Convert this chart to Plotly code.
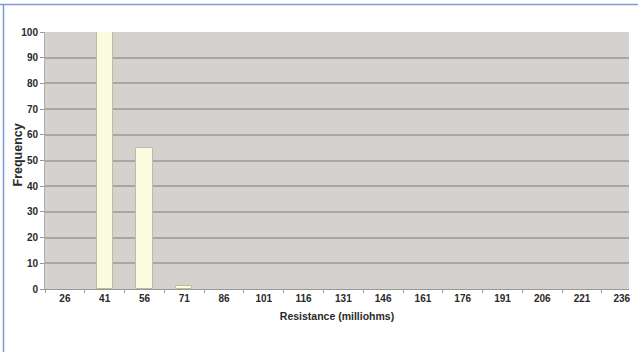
import plotly.graph_objects as go

categories = ["26", "41", "56", "71", "86", "101", "116", "131", "146", "161", "176", "191", "206", "221", "236"]
frequency = [0, 100, 55, 1, 0, 0, 0, 0, 0, 0, 0, 0, 0, 0, 0]
y_ticks = [0, 10, 20, 30, 40, 50, 60, 70, 80, 90, 100]

W, H = 638, 352
L, R, T, B = 45, 9, 32, 63
pw, ph = W - L - R, H - T - B

def px(x):
    return (x - L) / pw

def py(y):
    return (H - B - y) / ph

shown = [v if v > 0 else None for v in frequency]

fig = go.Figure()
fig.add_trace(go.Bar(
    x=categories, y=shown, width=0.41,
    marker=dict(color="#fbfbdf", line=dict(color="#bdbb9c", width=1)),
))

FAM = "Liberation Sans, Arial, sans-serif"
font = dict(family=FAM, size=10, color="#2a2a2a", weight="bold")
xtfont = dict(family=FAM, size=10.5, color="#2a2a2a", weight="bold")
ytfont = dict(family=FAM, size=12.5, color="#2a2a2a", weight="bold")

fig.update_layout(
    width=W, height=H,
    margin=dict(l=L, r=R, t=T, b=B, autoexpand=False),
    paper_bgcolor="white",
    plot_bgcolor="#d4d1ce",
    showlegend=False,
    bargap=0,
    font=font,
    xaxis=dict(
        type="category", range=[-0.5, 14.18], tickson="boundaries", ticks="outside", ticklen=3,
        tickcolor="#9a9895", showgrid=False, showline=True, linecolor="#9a9895",
        linewidth=1, tickfont=font, zeroline=False, automargin=False,
        title=dict(text="Resistance (milliohms)", font=xtfont, standoff=9),
    ),
    yaxis=dict(
        range=[0, 100], tickvals=y_ticks, ticks="outside", ticklen=4,
        tickcolor="#9a9895", showgrid=True, gridcolor="#a9a6a2", gridwidth=2,
        showline=True, linecolor="#b0aeab", zeroline=False, tickfont=font,
        automargin=False,
    ),
    annotations=[
        dict(text="Frequency", xref="paper", yref="paper", x=px(17.5), y=py(155),
             xanchor="center", yanchor="middle", textangle=-90, showarrow=False, font=ytfont),
    ],
    shapes=[
        dict(type="line", xref="paper", yref="paper", x0=px(0), x1=px(W), y0=py(4.5), y1=py(4.5),
             line=dict(color="#7f9bd0", width=1.5)),
        dict(type="line", xref="paper", yref="paper", x0=px(3.5), x1=px(3.5), y0=py(4.5), y1=py(H),
             line=dict(color="#7f9bd0", width=1.5)),
    ],
)

fig.write_html("out.html", config={"displayModeBar": False},
               post_script="document.body.style.margin='0';document.body.style.overflow='hidden';")
